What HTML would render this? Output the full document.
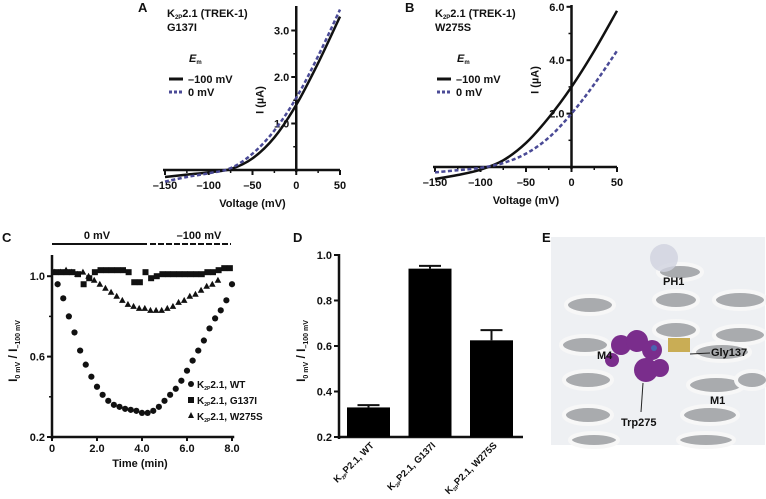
<!DOCTYPE html>
<html><head><meta charset="utf-8"><style>
body{margin:0;background:#fff}
svg{display:block;font-family:"Liberation Sans",sans-serif;font-weight:bold}
text{fill:#111;font-weight:bold}
</style></head><body>
<svg id="fig" width="766" height="499" viewBox="0 0 766 499">
<g id="pA"></g>
<g id="pB"></g>
<g id="pC"></g>
<g id="pD"></g>
<g id="pE">
  <rect x="551" y="237" width="214" height="208" fill="#eef0f3"/>
  <g fill="#a9abae" stroke="#f7f7f7" stroke-width="4">
    <ellipse cx="590" cy="305" rx="24" ry="9"/><ellipse cx="585" cy="345" rx="24" ry="9"/>
    <ellipse cx="588" cy="380" rx="24" ry="9"/><ellipse cx="588" cy="415" rx="24" ry="9"/>
    <ellipse cx="594" cy="440" rx="24" ry="7"/>
    <ellipse cx="680" cy="272" rx="22" ry="8"/><ellipse cx="676" cy="300" rx="22" ry="9"/>
    <ellipse cx="676" cy="330" rx="22" ry="9"/><ellipse cx="740" cy="300" rx="26" ry="9"/>
    <ellipse cx="740" cy="335" rx="26" ry="9"/><ellipse cx="722" cy="352" rx="28" ry="9"/>
    <ellipse cx="716" cy="385" rx="28" ry="9"/><ellipse cx="710" cy="415" rx="28" ry="9"/>
    <ellipse cx="706" cy="440" rx="28" ry="7"/><ellipse cx="752" cy="380" rx="16" ry="9"/>
  </g>
  <circle cx="664" cy="258" r="14" fill="#cfd2de" opacity="0.8"/>
  <rect x="668" y="338" width="22" height="14" fill="#c9ad55"/>
  <g fill="#7a2d8c">
    <circle cx="621" cy="345" r="10"/><circle cx="637" cy="341" r="11"/><circle cx="652" cy="350" r="10"/>
    <circle cx="646" cy="370" r="12"/><circle cx="660" cy="368" r="9"/><circle cx="612" cy="360" r="7"/>
  </g>
  <circle cx="654" cy="348" r="3" fill="#4a64b0"/>
  <text x="597" y="359" font-size="11">M4</text>
  <text x="663" y="285" font-size="11">PH1</text>
  <text x="711" y="356" font-size="11">Gly137</text>
  <line x1="690" y1="354" x2="710" y2="353" stroke="#222" stroke-width="1"/>
  <text x="710" y="404" font-size="11">M1</text>
  <line x1="643" y1="383" x2="641" y2="412" stroke="#222" stroke-width="1"/>
  <text x="621" y="426" font-size="11">Trp275</text>
  <text x="542" y="242" font-size="13">E</text>
</g>
</svg>
<script>
// Panel A data
const aVolt=[-150,-125,-100,-75,-50,-25,0,25,50];
const aSolid=[-0.15,-0.1,-0.05,0.02,0.25,0.7,1.4,2.3,3.3];
const aDash=[-0.25,-0.15,-0.07,0.04,0.35,0.85,1.55,2.45,3.45];
const aYTicks=[1.0,2.0,3.0];
// Panel B data
const bVolt=[-150,-125,-100,-75,-50,-25,0,25,50];
const bSolid=[-0.45,-0.3,-0.1,0.25,0.9,1.85,3.0,4.35,5.85];
const bDash=[-0.2,-0.12,-0.03,0.15,0.5,1.1,2.0,3.1,4.35];
const bYTicks=[2.0,4.0,6.0];
const xTicksIV=[-150,-100,-50,0,50];
// Panel C data
const cTime=[0.25,0.5,0.75,1.0,1.25,1.5,1.75,2.0,2.25,2.5,2.75,3.0,3.25,3.5,3.75,4.0,4.25,4.5,4.75,5.0,5.25,5.5,5.75,6.0,6.25,6.5,6.75,7.0,7.25,7.5,7.75,8.0];
const cWT=[0.96,0.89,0.80,0.72,0.63,0.56,0.50,0.45,0.41,0.38,0.36,0.35,0.34,0.335,0.33,0.32,0.32,0.33,0.35,0.38,0.41,0.44,0.48,0.53,0.58,0.63,0.68,0.74,0.79,0.83,0.88,0.96];
const cG137I=[1.02,1.02,1.02,1.02,1.01,0.96,0.99,1.02,1.03,1.03,1.03,1.03,1.03,1.02,0.97,0.97,1.02,0.99,1.0,1.01,1.01,1.01,1.01,1.01,1.01,1.01,1.01,1.02,1.02,1.03,1.04,1.04];
const cW275S=[1.02,1.02,1.03,1.02,1.01,1.02,1.0,0.98,0.96,0.94,0.92,0.90,0.88,0.86,0.85,0.84,0.84,0.83,0.83,0.83,0.84,0.85,0.87,0.88,0.90,0.91,0.93,0.95,0.96,0.98];
const cYTicks=[0.2,0.6,1.0];
const cXTicks=[0,2,4,6,8];
// Panel D data
const dCats=["K2P2.1, WT","K2P2.1, G137I","K2P2.1, W275S"];
const dVals=[0.33,0.94,0.625];
const dErr=[0.01,0.012,0.045];
const dYTicks=[0.2,0.4,0.6,0.8,1.0];

const NS="http://www.w3.org/2000/svg";
function el(parent,tag,attrs,txt){const e=document.createElementNS(NS,tag);for(const k in attrs)e.setAttribute(k,attrs[k]);if(txt!==undefined)e.textContent=txt;parent.appendChild(e);return e;}
function smooth(pts){let d="M"+pts[0][0]+","+pts[0][1];for(let i=0;i<pts.length-1;i++){const p0=pts[Math.max(0,i-1)],p1=pts[i],p2=pts[i+1],p3=pts[Math.min(pts.length-1,i+2)];const c1=[p1[0]+(p2[0]-p0[0])/6,p1[1]+(p2[1]-p0[1])/6],c2=[p2[0]-(p3[0]-p1[0])/6,p2[1]-(p3[1]-p1[1])/6];d+=" C"+c1[0]+","+c1[1]+" "+c2[0]+","+c2[1]+" "+p2[0]+","+p2[1];}return d;}

function ivPanel(g,o){
  const X=v=>o.x0+(v+150)/200*(o.x1-o.x0);
  const Y=v=>o.y0-v*o.ky;
  const xa=el(g,'line',{x1:X(-150)-2,y1:o.y0,x2:X(50),y2:o.y0,stroke:'#111','stroke-width':2.5});
  
  
  const ya=el(g,'line',{x1:X(0),y1:o.y0+2,x2:X(0),y2:o.yTop,stroke:'#111','stroke-width':2.5});
  
  
  xTicksIV.forEach(t=>{el(g,'line',{x1:X(t),y1:o.y0,x2:X(t),y2:o.y0+5,stroke:'#111','stroke-width':2});
    const tl=el(g,'text',{x:X(t),y:o.y0+19,'font-size':11,'text-anchor':'middle'},t<0?'\u2013'+(-t):String(t));
    
    
    if(t<50){el(g,'line',{x1:X(t+25),y1:o.y0,x2:X(t+25),y2:o.y0+3,stroke:'#111','stroke-width':1.5});}
  });
  o.yt.forEach(t=>{el(g,'line',{x1:X(0)-5,y1:Y(t),x2:X(0),y2:Y(t),stroke:'#111','stroke-width':2});
    el(g,'line',{x1:X(0)-3,y1:Y(t-o.step/2),x2:X(0),y2:Y(t-o.step/2),stroke:'#111','stroke-width':1.5});
    const yl=el(g,'text',{x:X(0)-7,y:Y(t)+4,'font-size':11,'text-anchor':'end'},t.toFixed(1));
    
    
  });
  const s=el(g,'path',{d:smooth(o.v.map((v,i)=>[X(v),Y(o.s[i])])),fill:'none',stroke:'#111','stroke-width':2.5});
  
  
  const d=el(g,'path',{d:smooth(o.v.map((v,i)=>[X(v),Y(o.d[i])])),fill:'none',stroke:'#4a4a96','stroke-width':2.5,'stroke-dasharray':'4,2.5'});
  
  
  const xl=el(g,'text',{x:(X(-150)+X(50))/2,y:o.y0+37,'font-size':11,'text-anchor':'middle'},'Voltage (mV)');
  
  
  const yl=el(g,'text',{x:0,y:0,'font-size':11,'text-anchor':'middle',transform:`translate(${X(0)-33},${o.ylY}) rotate(-90)`},'I (\u00b5A)');
  
  
  const L=el(g,'text',{x:o.lx,y:12,'font-size':13},o.letter);
  
  
  const t1=el(g,'text',{x:o.tx,y:17,'font-size':11});
  
  
  t1.innerHTML='K<tspan font-size="6" dy="2">2P</tspan><tspan dy="-2">2.1 (TREK-1)</tspan>';
  el(g,'text',{x:o.tx,y:31,'font-size':11},o.mut);
  const em=el(g,'text',{x:o.tx+22,y:62,'font-size':11,'font-style':'italic'});
  em.innerHTML='E<tspan font-size="6" dy="2" font-style="normal">m</tspan>';
  el(g,'line',{x1:o.tx+2,y1:79,x2:o.tx+16,y2:79,stroke:'#111','stroke-width':3});
  el(g,'text',{x:o.tx+21,y:83,'font-size':11},'\u2013100 mV');
  el(g,'line',{x1:o.tx+2,y1:92,x2:o.tx+16,y2:92,stroke:'#4a4a96','stroke-width':3,'stroke-dasharray':'3,2'});
  el(g,'text',{x:o.tx+21,y:96,'font-size':11},'0 mV');
}
ivPanel(document.getElementById('pA'),{x0:165,x1:340,y0:170,ky:46.5,yTop:6,v:aVolt,s:aSolid,d:aDash,yt:aYTicks,step:1,letter:'A',lx:138,tx:167,mut:'G137I',ylY:100});
ivPanel(document.getElementById('pB'),{x0:435,x1:617,y0:167,ky:26.7,yTop:5,v:bVolt,s:bSolid,d:bDash,yt:bYTicks,step:2,letter:'B',lx:405,tx:435,mut:'W275S',ylY:80});

// Panel C
(function(){
  const g=document.getElementById('pC');
  const X=t=>52+t*22.5, Y=v=>437-(v-0.2)*201;
  el(g,'line',{x1:X(0),y1:Y(0.2),x2:X(8.1),y2:Y(0.2),stroke:'#111','stroke-width':2.5});
  el(g,'line',{x1:X(0),y1:Y(0.2)+2,x2:X(0),y2:255,stroke:'#111','stroke-width':2.5});
  cXTicks.forEach(t=>{el(g,'line',{x1:X(t),y1:Y(0.2),x2:X(t),y2:Y(0.2)+4,stroke:'#111','stroke-width':2});
    const tl=el(g,'text',{x:X(t),y:Y(0.2)+15,'font-size':11,'text-anchor':'middle'},t===0?'0':t.toFixed(1));
    
    });
  cYTicks.forEach(t=>{el(g,'line',{x1:X(0)-5,y1:Y(t),x2:X(0),y2:Y(t),stroke:'#111','stroke-width':2});
    const yl=el(g,'text',{x:X(0)-7,y:Y(t)+4,'font-size':11,'text-anchor':'end'},t.toFixed(1));
    
    });
  [0.4,0.8].forEach(t=>el(g,'line',{x1:X(0)-3,y1:Y(t),x2:X(0),y2:Y(t),stroke:'#111','stroke-width':1.5}));
  cWT.forEach((v,i)=>{const c=el(g,'circle',{cx:X(cTime[i]),cy:Y(v),r:3.1,fill:'#111'});
    
    });
  cG137I.forEach((v,i)=>{const r=el(g,'rect',{x:X(cTime[i]-0.25)+0.5,y:Y(v)-3,width:6,height:6,fill:'#111'});
    
    });
  cW275S.forEach((v,i)=>{const x=X(cTime[i]-0.125),y=Y(v);const p=el(g,'polygon',{points:`${x},${y-3.5} ${x-3.3},${y+2.5} ${x+3.3},${y+2.5}`,fill:'#111'});
    
    });
  el(g,'line',{x1:52,y1:244,x2:147,y2:244,stroke:'#111','stroke-width':2});
  el(g,'line',{x1:150,y1:244,x2:231,y2:244,stroke:'#111','stroke-width':2,'stroke-dasharray':'6,2'});
  el(g,'text',{x:97,y:239,'font-size':11,'text-anchor':'middle'},'0 mV');
  el(g,'text',{x:199,y:239,'font-size':11,'text-anchor':'middle'},'\u2013100 mV');
  el(g,'text',{x:2,y:242,'font-size':13},'C');
  const xl=el(g,'text',{x:140,y:467,'font-size':11,'text-anchor':'middle'},'Time (min)');
  
  
  const yl=el(g,'text',{x:0,y:0,'font-size':12,'text-anchor':'middle',transform:'translate(17,351) rotate(-90)'});
  
  
  yl.innerHTML='I<tspan font-size="7" dy="3">0 mV</tspan><tspan dy="-3"> / I</tspan><tspan font-size="7" dy="3">\u2013100 mV</tspan>';
  const leg=[['circle','WT',388],['rect','G137I',404],['tri','W275S',420]];
  leg.forEach(l=>{const x=191,y=l[2];
    if(l[0]==='circle')el(g,'circle',{cx:x,cy:y-4,r:3,fill:'#111'});
    else if(l[0]==='rect')el(g,'rect',{x:x-3,y:y-7,width:6,height:6,fill:'#111'});
    else el(g,'polygon',{points:`${x},${y-8} ${x-3},${y-2} ${x+3},${y-2}`,fill:'#111'});
    const t=el(g,'text',{x:x+6,y:y,'font-size':10});
    
    
    t.innerHTML='K<tspan font-size="5" dy="2">2P</tspan><tspan dy="-2">2.1, '+l[1]+'</tspan>';});
})();

// Panel D
(function(){
  const g=document.getElementById('pD');
  const Y=v=>437-(v-0.2)*227.5;
  const x0=339,bw=43,gap=18,first=347;
  el(g,'line',{x1:x0,y1:Y(0.2),x2:523,y2:Y(0.2),stroke:'#111','stroke-width':2.5});
  el(g,'line',{x1:x0,y1:Y(0.2)+2,x2:x0,y2:Y(1.0)-1,stroke:'#111','stroke-width':2.5});
  dYTicks.forEach(t=>{el(g,'line',{x1:x0-5,y1:Y(t),x2:x0,y2:Y(t),stroke:'#111','stroke-width':2});
    const yl=el(g,'text',{x:x0-7,y:Y(t)+4,'font-size':11,'text-anchor':'end'},t.toFixed(1));
    
    });
  dVals.forEach((v,i)=>{const bx=first+i*(bw+gap+0.5);
    const r=el(g,'rect',{x:bx,y:Y(v),width:bw,height:Y(0.2)-Y(v),fill:'#000'});
    
    
    const cx=bx+bw/2;
    el(g,'line',{x1:cx,y1:Y(v),x2:cx,y2:Y(v+dErr[i]),stroke:'#111','stroke-width':2});
    el(g,'line',{x1:cx-11,y1:Y(v+dErr[i]),x2:cx+11,y2:Y(v+dErr[i]),stroke:'#111','stroke-width':2});
    const t=el(g,'text',{x:0,y:0,'font-size':9.5,'text-anchor':'end',transform:`translate(${cx+6},${Y(0.2)+9}) rotate(-45)`});
    
    
    t.innerHTML='K<tspan font-size="5" dy="2">2P</tspan><tspan dy="-2">'+dCats[i].slice(2)+'</tspan>';});
  el(g,'text',{x:293,y:242,'font-size':13},'D');
  const yl=el(g,'text',{x:0,y:0,'font-size':12,'text-anchor':'middle',transform:'translate(305,351) rotate(-90)'});
  
  
  yl.innerHTML='I<tspan font-size="7" dy="3">0 mV</tspan><tspan dy="-3"> / I</tspan><tspan font-size="7" dy="3">\u2013100 mV</tspan>';
})();
</script>
</body></html>
